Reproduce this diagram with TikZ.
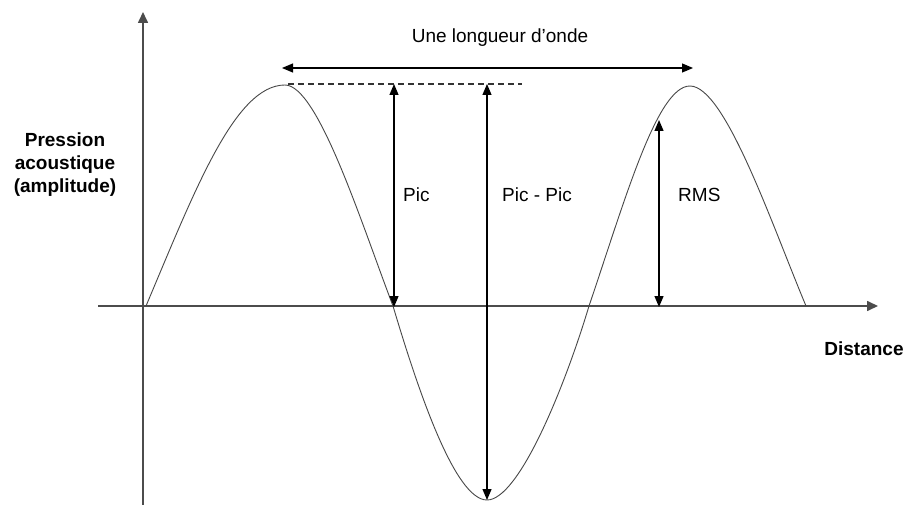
\documentclass[tikz,border=0pt]{standalone}
\usepackage{fontspec}
\setmainfont{Liberation Sans}
\usetikzlibrary{arrows.meta}
\begin{document}
\begin{tikzpicture}[x=1pt,y=-1pt,
  axisline/.style={line width=1.6pt, draw=black!70, -{Triangle[length=11pt,width=10pt]}},
  dimline/.style={line width=1.2pt, draw=black, {Triangle[length=11pt,width=9pt]}-{Triangle[length=11pt,width=9pt]}},
  wave/.style={line width=0.9pt, draw=black!72},
  lbl/.style={font=\fontsize{19}{22.5}\selectfont, inner sep=0pt},
  blbl/.style={font=\fontsize{19}{22.5}\selectfont\bfseries, inner sep=0pt, align=center}]
\useasboundingbox (0,0) rectangle (909,505);
\fill[white] (0,0) rectangle (909,505);
% axes
\coordinate (ybot) at (143,505);
\coordinate (ytop) at (143,12);
\coordinate (xleft) at (98,306);
\coordinate (xright) at (878,306);
\draw[axisline] (ybot) -- (ytop);
\draw[axisline] (xleft) -- (xright);
% wave
\coordinate (w0) at (146,306);
\coordinate (w1) at (285,85);
\coordinate (w2) at (393,306);
\coordinate (w3) at (487,500);
\coordinate (w4) at (589,306);
\coordinate (w5) at (690,86);
\coordinate (w6) at (806,306);
\draw[wave] (w0) .. controls (195,190) and (235,85) .. (w1)
  .. controls (318,85) and (362,225) .. (w2)
  .. controls (418,390) and (455,500) .. (w3)
  .. controls (519,500) and (565,386) .. (w4)
  .. controls (625,200) and (657,86) .. (w5)
  .. controls (725,86) and (772,225) .. (w6);
% dashed line
\coordinate (dA) at (288,84);
\coordinate (dB) at (522,84);
\draw[line width=1.1pt, black!80, dash pattern=on 6pt off 4pt] (dA) -- (dB);
% wavelength
\coordinate (wl) at (282,68);
\coordinate (wr) at (693,68);
\draw[dimline] (wl) -- (wr);
\node[lbl, anchor=base] (tw) at (500,43) {Une longueur d'onde};
% Pic
\coordinate (p1t) at (394,84);
\coordinate (p1b) at (394,307);
\draw[dimline] (p1t) -- (p1b);
\node[lbl, anchor=base west] (tp) at (403,201) {Pic};
% Pic-Pic
\coordinate (p2t) at (487,84);
\coordinate (p2b) at (487,500);
\draw[dimline] (p2t) -- (p2b);
\node[lbl, anchor=base west] (tpp) at (502,201) {Pic - Pic};
% RMS
\coordinate (rt) at (659,120);
\coordinate (rb) at (659,307);
\draw[dimline] (rt) -- (rb);
\node[lbl, anchor=base west] (tr) at (678,201) {RMS};
% axis labels
\node[blbl, anchor=base] (ty) at (65,192) {Pression\\acoustique\\(amplitude)};
\node[blbl, anchor=base] (tx) at (864,355) {Distance};
\end{tikzpicture}
\end{document}
